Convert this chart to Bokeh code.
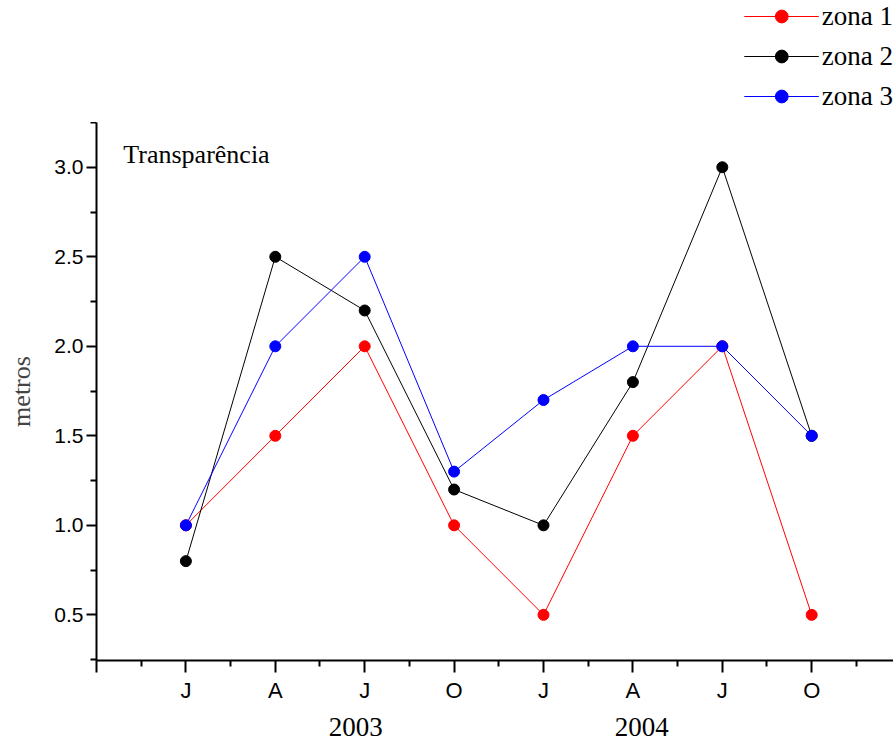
from bokeh.plotting import figure
from bokeh.layouts import column
from bokeh.models import Range1d, FixedTicker, Legend, LegendItem, Label, LinearAxis
from bokeh.embed import file_html
from bokeh.resources import INLINE

# Monthly sampling (quarterly) over two years
months = ["J", "A", "J", "O", "J", "A", "J", "O"]
years = ["2003", "2004"]
year_centers = [1.9, 5.1]

# Water transparency (metres) per zone
zona1 = [1.0, 1.5, 2.0, 1.0, 0.5, 1.5, 2.0, 0.5]
zona2 = [0.8, 2.5, 2.2, 1.2, 1.0, 1.8, 3.0, 1.5]
zona3 = [1.0, 2.0, 2.5, 1.3, 1.7, 2.0, 2.0, 1.5]

y_ticks = [0.5, 1.0, 1.5, 2.0, 2.5, 3.0]

series = [("zona 1", zona1, "#ff0000"),
          ("zona 2", zona2, "#000000"),
          ("zona 3", zona3, "#0000ff")]

SERIF = "Liberation Serif"
SANS = "Liberation Sans"

x = list(range(len(months)))

# ---- main chart -------------------------------------------------------
p = figure(width=893, height=618,
           x_range=Range1d(-1, 7.915), y_range=Range1d(0.245, 3.25),
           output_backend="svg", toolbar_location=None,
           min_border_left=96, min_border_right=0,
           min_border_top=0, min_border_bottom=80)

p.outline_line_color = None
p.xgrid.visible = False
p.ygrid.visible = False
p.background_fill_color = "white"
p.border_fill_color = "white"

# x axis: quarter ticks with half-step minor ticks
xa = p.xaxis[0]
xa.ticker = FixedTicker(ticks=[-1] + x, minor_ticks=[i + 0.5 for i in range(-1, 8)])
overrides = {-1: ""}
overrides.update({i: m for i, m in enumerate(months)})
xa.major_label_overrides = overrides
xa.axis_line_width = 2
xa.axis_line_color = "black"
xa.major_tick_line_width = 2
xa.minor_tick_line_width = 2
xa.major_tick_in = 0
xa.major_tick_out = 12
xa.minor_tick_in = 0
xa.minor_tick_out = 6
xa.major_label_standoff = 5
xa.major_label_text_font = SANS
xa.major_label_text_font_size = "22px"
xa.major_label_text_color = "black"

# year labels on a second, line-less axis underneath the months
year_axis = LinearAxis(ticker=FixedTicker(ticks=year_centers),
                       major_label_overrides={c: y for c, y in zip(year_centers, years)},
                       axis_line_color=None, major_tick_line_color=None,
                       minor_tick_line_color=None,
                       major_tick_in=0, major_tick_out=0,
                       major_label_standoff=12,
                       major_label_text_font=SERIF,
                       major_label_text_font_size="27px",
                       major_label_text_color="black")
p.add_layout(year_axis, "below")

# y axis
ya = p.yaxis[0]
ya.ticker = FixedTicker(ticks=y_ticks, minor_ticks=[0.25 + 0.5 * i for i in range(7)])
ya.major_label_overrides = {t: f"{t:.1f}" for t in y_ticks}
ya.axis_line_width = 2
ya.axis_line_color = "black"
ya.major_tick_line_width = 2
ya.minor_tick_line_width = 2
ya.major_tick_in = 0
ya.major_tick_out = 10
ya.minor_tick_in = 0
ya.minor_tick_out = 6
ya.major_label_standoff = 3
ya.major_label_text_font = SANS
ya.major_label_text_font_size = "21px"
ya.major_label_text_color = "black"
ya.axis_label = "metros"
ya.axis_label_text_font = SERIF
ya.axis_label_text_font_style = "normal"
ya.axis_label_text_font_size = "26px"
ya.axis_label_standoff = 15

for name, vals, color in series:
    p.line(x, vals, line_color=color, line_width=1)
    p.scatter(x, vals, size=11, fill_color=color, line_color=color)

p.add_layout(Label(x=-0.70, y=3.07, text="Transparência",
                   text_font=SERIF, text_font_size="26px",
                   text_baseline="middle", text_align="left",
                   text_color="black"))

# ---- legend strip above the chart ------------------------------------
# the strip's range is kept away from the series so only the legend shows
top = figure(width=893, height=122, x_range=Range1d(100, 101), y_range=Range1d(100, 101),
             output_backend="svg", toolbar_location=None,
             x_axis_location=None, y_axis_location=None,
             min_border=0, outline_line_color=None)
top.xgrid.visible = False
top.ygrid.visible = False

items = []
for name, vals, color in series:
    ln = top.line(x, vals, line_color=color, line_width=1)
    sc = top.scatter(x, vals, size=11, fill_color=color, line_color=color)
    items.append(LegendItem(label=name, renderers=[ln, sc]))

legend = Legend(items=items, location="top_right", orientation="vertical",
                margin=0, padding=6, spacing=8,
                glyph_width=75, glyph_height=32, label_height=32,
                label_standoff=3,
                label_text_font=SERIF, label_text_font_size="27px",
                label_text_color="black",
                border_line_color=None, background_fill_alpha=0)
top.add_layout(legend)

layout = column(top, p, spacing=0)
open("out.html", "w").write(file_html(layout, INLINE))
